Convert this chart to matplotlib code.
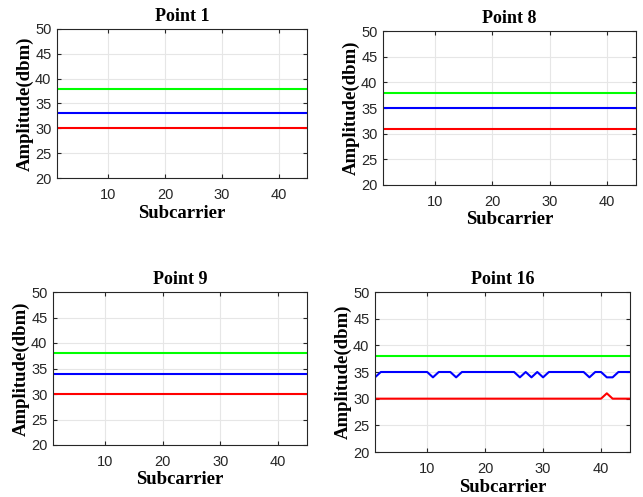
import matplotlib
matplotlib.use("Agg")
import matplotlib.pyplot as plt
import numpy as np

subcarrier = np.arange(1, 46)

titles = ["Point 1", "Point 8", "Point 9", "Point 16"]

green = {
    "Point 1": [38] * 45,
    "Point 8": [38] * 45,
    "Point 9": [38] * 45,
    "Point 16": [38] * 45,
}
blue = {
    "Point 1": [33] * 45,
    "Point 8": [35] * 45,
    "Point 9": [34] * 45,
    "Point 16": [34, 35, 35, 35, 35, 35, 35, 35, 35, 35,
                 34, 35, 35, 35, 34, 35, 35, 35, 35, 35,
                 35, 35, 35, 35, 35, 34, 35, 34, 35, 34,
                 35, 35, 35, 35, 35, 35, 35, 34, 35, 35,
                 34, 34, 35, 35, 35],
}
red = {
    "Point 1": [30] * 45,
    "Point 8": [31] * 45,
    "Point 9": [30] * 45,
    "Point 16": [30] * 40 + [31] + [30] * 4,
}

yticks = [20, 25, 30, 35, 40, 45, 50]
xticks = [10, 20, 30, 40]

W, H = 643, 497
# axes boxes in pixels: left, top, right, bottom
boxes = {
    "Point 1": (57, 29, 307, 178),
    "Point 8": (383, 31, 636, 185),
    "Point 9": (53, 292, 307, 445),
    "Point 16": (375, 292, 630, 452),
}

serif = ["Liberation Serif", "DejaVu Serif"]
sans = ["Liberation Sans", "DejaVu Sans"]
dark = "#262626"

fig = plt.figure(figsize=(W / 100, H / 100), dpi=100)

for name in titles:
    l, t, r, b = boxes[name]
    ax = fig.add_axes([l / W, (H - b) / H, (r - l) / W, (b - t) / H])
    ax.plot(subcarrier, green[name], color=(0, 1, 0), lw=1.5)
    ax.plot(subcarrier, blue[name], color=(0, 0, 1), lw=1.5)
    ax.plot(subcarrier, red[name], color=(1, 0, 0), lw=1.5)
    ax.set_xlim(1, 45)
    ax.set_ylim(20, 50)
    ax.set_xticks(xticks)
    ax.set_yticks(yticks)
    ax.grid(True, color="#e6e6e6", lw=0.8)
    ax.set_axisbelow(True)
    ax.tick_params(direction="in", top=True, right=True, length=3,
                   colors=dark, labelsize=10.5, width=0.8)
    ax.tick_params(axis="x", pad=7)
    ax.tick_params(axis="y", pad=4)
    for lab in ax.get_xticklabels() + ax.get_yticklabels():
        lab.set_family(sans)
    for s in ax.spines.values():
        s.set_color(dark)
        s.set_linewidth(0.8)
    ax.set_title(name, family=serif, fontweight="bold", fontsize=13, pad=6)
    ax.set_xlabel("Subcarrier", family=serif, fontweight="bold", fontsize=13.5, labelpad=2)
    ax.set_ylabel("Amplitude(dbm)", family=serif, fontweight="bold", fontsize=13.5, labelpad=1)

fig.savefig("out.png", dpi=100)
